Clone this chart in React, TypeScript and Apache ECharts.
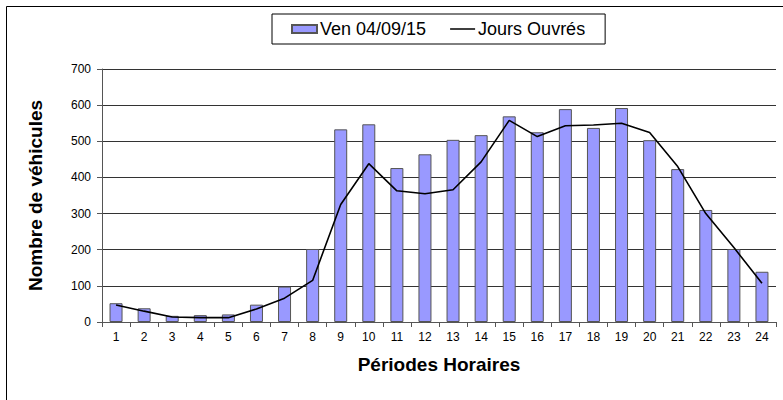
import React, { useEffect, useRef } from "react";
import * as echarts from "echarts";

const categories = ["1","2","3","4","5","6","7","8","9","10","11","12","13","14","15","16","17","18","19","20","21","22","23","24"];
const venValues = [52, 38, 17, 19, 21, 48, 98, 202, 533, 547, 426, 464, 504, 517, 569, 525, 589, 537, 592, 503, 423, 310, 202, 139];
const joursOuvres = [47, 30, 14, 12, 12, 36, 66, 115, 325, 438, 363, 355, 366, 443, 558, 513, 543, 545, 550, 524, 430, 300, 206, 107];
const yTicks = { min: 0, max: 700, interval: 100 };

const FONT = "'Liberation Sans', Arial, sans-serif";
const LINE_ICON = "path://M0,0h0.01v0.01h-0.01z M0,3.3h25v1.4h-25z M24.99,7.99h0.01v0.01h-0.01z";

export default function App() {
  const ref = useRef<HTMLDivElement>(null);
  useEffect(() => {
    document.body.style.margin = "0";
    if (!ref.current) return;
    const chart = echarts.init(ref.current, null, { renderer: "svg" });
    chart.setOption({
      animation: false,
      backgroundColor: "#ffffff",
      textStyle: { fontFamily: FONT },
      graphic: [
        {
          type: "rect",
          shape: { x: 6.5, y: 6.5, width: 800, height: 400 },
          style: { fill: "none", stroke: "#000", lineWidth: 1 },
          silent: true,
        },
      ],
      legend: {
        left: 272,
        top: 14,
        orient: "horizontal",
        borderColor: "#000",
        borderWidth: 1,
        padding: [6, 20, 6, 19],
        itemGap: 24,
        itemWidth: 25,
        itemHeight: 8,
        textStyle: { fontSize: 18, color: "#000", fontFamily: FONT, padding: [0, 0, 0, -2] },
        data: [
          { name: "Ven 04/09/15", icon: "rect" },
          { name: "Jours Ouvrés", icon: LINE_ICON, itemStyle: { color: "#000", borderWidth: 0 } },
        ],
      },
      grid: { left: 102, right: 7, top: 69, bottom: 78, containLabel: false },
      xAxis: {
        type: "category",
        data: categories,
        name: "Périodes Horaires",
        nameLocation: "middle",
        nameGap: 33,
        nameTextStyle: { fontSize: 19, fontWeight: "bold", color: "#000", fontFamily: FONT },
        axisLine: { show: true, lineStyle: { color: "#555", width: 1 } },
        axisTick: { show: true, alignWithLabel: false, length: 5, lineStyle: { color: "#555" } },
        axisLabel: { fontSize: 12, color: "#000", margin: 9, interval: 0, fontFamily: FONT },
        splitLine: { show: false },
      },
      yAxis: {
        type: "value",
        min: yTicks.min,
        max: yTicks.max,
        interval: yTicks.interval,
        name: "Nombre de véhicules",
        nameLocation: "middle",
        nameRotate: 90,
        nameGap: 57,
        nameTextStyle: { fontSize: 19, fontWeight: "bold", color: "#000", fontFamily: FONT },
        axisLine: { show: true, lineStyle: { color: "#555", width: 1 } },
        axisTick: { show: true, length: 5, lineStyle: { color: "#555" } },
        axisLabel: { fontSize: 12, color: "#000", margin: 11, fontFamily: FONT },
        splitLine: { show: true, lineStyle: { color: "#333", width: 1 } },
      },
      series: [
        {
          name: "Ven 04/09/15",
          type: "bar",
          data: venValues,
          barWidth: 13,
          itemStyle: { color: "#9999FF", borderColor: "#555", borderWidth: 1 },
        },
        {
          name: "Jours Ouvrés",
          type: "line",
          data: joursOuvres,
          symbol: "none",
          showSymbol: false,
          lineStyle: { color: "#000", width: 1.6 },
          itemStyle: { color: "#000" },
        },
      ],
    });
    return () => chart.dispose();
  }, []);
  return <div ref={ref} style={{ width: 783, height: 400 }} />;
}
